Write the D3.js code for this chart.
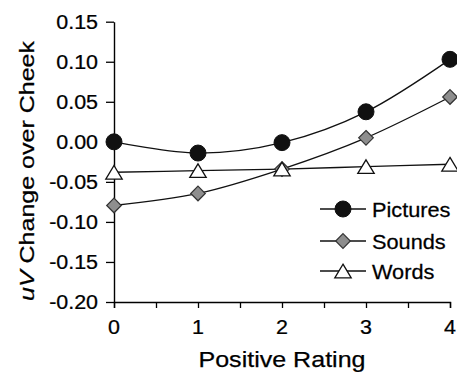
<!DOCTYPE html>
<html>
<head>
<meta charset="utf-8">
<script src="https://cdn.jsdelivr.net/npm/d3@7"></script>
<style>
  html, body { margin: 0; padding: 0; background: #fff; }
  svg { display: block; font-family: "Liberation Sans", Arial, Helvetica, sans-serif; }
  svg text { fill: #000; stroke: #000; stroke-width: 0.25px; }
</style>
</head>
<body>
<svg id="chart" width="457" height="372"></svg>
<script>
// data
const ratings = [0, 1, 2, 3, 4];
const pictures = [0.000, -0.014, -0.001, 0.0375, 0.103];
const sounds = [-0.0795, -0.0645, -0.034, 0.005, 0.056];
const words = [-0.038, -0.036, -0.034, -0.031, -0.028];
const yTicks = [0.15, 0.10, 0.05, 0.00, -0.05, -0.10, -0.15, -0.20];
const xTicks = [0, 1, 2, 3, 4];
const xMinorTicks = [0, 0.5, 1, 1.5, 2, 2.5, 3, 3.5, 4];
const seriesNames = ['Pictures', 'Sounds', 'Words'];

const TEXT_STRETCH = 1.1;

const svg = d3.select('#chart');

const x = d3.scaleLinear().domain([0, 4]).range([114, 450]);
const y = d3.scaleLinear().domain([-0.20, 0.15]).range([302, 21.7]);

// x axis
const xAxisG = svg.append('g').attr('transform', `translate(0,${y(-0.20)})`);
xAxisG.call(d3.axisBottom(x).tickValues(xMinorTicks).tickSize(6).tickFormat(''));
xAxisG.select('.domain').attr('stroke-width', 1.4);
xAxisG.selectAll('.tick line').attr('stroke-width', 1.3);
xAxisG.selectAll('.tick text').remove();

svg.append('g').selectAll('text')
  .data(xTicks)
  .join('text')
  .attr('transform', (d) => `translate(${x(d)},334) scale(${TEXT_STRETCH},1)`)
  .attr('text-anchor', 'middle')
  .attr('font-size', 19.5)
  .text((d) => d);

// y axis
const yAxisG = svg.append('g').attr('transform', `translate(${x(0)},0)`);
yAxisG.call(d3.axisLeft(y).tickValues(yTicks).tickSize(8).tickSizeOuter(0).tickFormat(''));
yAxisG.select('.domain').attr('stroke-width', 1.4);
yAxisG.selectAll('.tick line').attr('stroke-width', 1.3);
yAxisG.selectAll('.tick text').remove();

svg.append('g').selectAll('text')
  .data(yTicks)
  .join('text')
  .attr('transform', (d) => `translate(98,${y(d) + 7}) scale(${TEXT_STRETCH},1)`)
  .attr('text-anchor', 'end')
  .attr('font-size', 19.5)
  .text((d) => d.toFixed(2));

// axis titles
svg.append('text')
  .attr('x', 282)
  .attr('y', 366.5)
  .attr('text-anchor', 'middle')
  .attr('font-size', 22.5)
  .attr('textLength', 167)
  .attr('lengthAdjust', 'spacingAndGlyphs')
  .text('Positive Rating');

const yTitle = svg.append('text')
  .attr('transform', 'translate(33.5,171) rotate(-90)')
  .attr('text-anchor', 'middle')
  .attr('font-size', 21)
  .attr('textLength', 260)
  .attr('lengthAdjust', 'spacingAndGlyphs');
yTitle.append('tspan').attr('font-style', 'italic').text('uV');
yTitle.append('tspan').text(' Change over Cheek');

// series
const line = d3.line()
  .x((d, i) => x(ratings[i]))
  .y((d) => y(d))
  .curve(d3.curveCardinal.tension(0));

const allSeries = [pictures, sounds, words];
const seriesG = svg.append('g');

seriesG.selectAll('path')
  .data(allSeries)
  .join('path')
  .attr('d', line)
  .attr('fill', 'none')
  .attr('stroke', '#111')
  .attr('stroke-width', 1.3);

function drawMarker(sel, type) {
  if (type === 'Pictures') {
    sel.append('circle').attr('r', 8).attr('fill', '#111').attr('stroke', '#111').attr('stroke-width', 1);
  } else if (type === 'Sounds') {
    sel.append('path')
      .attr('d', 'M0,-7.3L7.3,0L0,7.3L-7.3,0Z')
      .attr('fill', '#8e8e8e')
      .attr('stroke', '#333')
      .attr('stroke-width', 1.2);
  } else {
    sel.append('path')
      .attr('d', 'M0,-6.8L8.2,6.8L-8.2,6.8Z')
      .attr('fill', '#fff')
      .attr('stroke', '#111')
      .attr('stroke-width', 1.3);
  }
}

allSeries.forEach((series, si) => {
  const g = seriesG.append('g');
  series.forEach((v, i) => {
    const m = g.append('g').attr('transform', `translate(${x(ratings[i])},${y(v)})`);
    drawMarker(m, seriesNames[si]);
  });
});

// legend
const legendRows = [209, 241, 271];
const legend = svg.append('g');
seriesNames.forEach((name, i) => {
  const row = legend.append('g').attr('transform', `translate(0,${legendRows[i]})`);
  row.append('line')
    .attr('x1', 320).attr('x2', 366)
    .attr('stroke', '#111').attr('stroke-width', 1.3);
  drawMarker(row.append('g').attr('transform', 'translate(343,0)'), name);
  row.append('text')
    .attr('transform', 'translate(372,7.5) scale(1.06,1)')
    .attr('font-size', 20.5)
    .text(name);
});
</script>
</body>
</html>
